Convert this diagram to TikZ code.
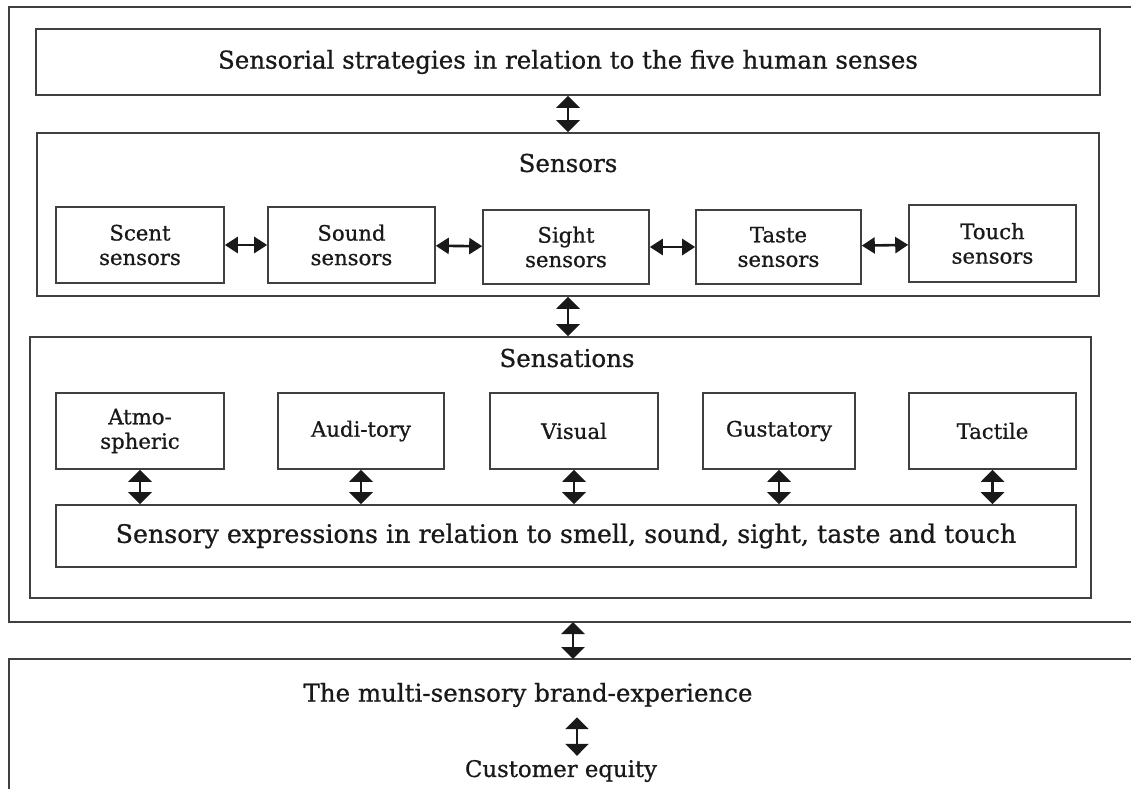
\documentclass[tikz,border=0pt]{standalone}
\usepackage{fontspec}
\setmainfont{DejaVu Serif}[FakeBold=0.8]
\usetikzlibrary{arrows.meta,positioning}
\begin{document}
\begin{tikzpicture}[x=1pt,y=-1pt,
    frame/.style={line width=1.6pt,black!75},
    box/.style={draw=black!75,line width=1.6pt,rectangle,inner sep=0pt,align=center,text=black!90},
    lbl/.style={text=black!90,inner sep=0pt},
    big/.style={font=\fontsize{24.5}{29}\selectfont},
    mid/.style={font=\fontsize{21.2}{24.5}\selectfont},
    arr/.style={line width=2.6pt,black!90,{Triangle[width=23pt,length=12pt]}-{Triangle[width=23pt,length=12pt]}},
    harr/.style={line width=2.6pt,black!90,{Triangle[width=16pt,length=13pt]}-{Triangle[width=16pt,length=13pt]}}]
    \useasboundingbox (0,0) rectangle (1131,789);
    %% outer frames
    \draw[frame] (1131,7) -- (9,7) -- (9,622) -- (1131,622);
    \draw[frame] (1131,659) -- (9,659) -- (9,789);
    \coordinate (o1) at (573,622);
    \coordinate (o2) at (573,659);
    %% top box
    \node[box,big,minimum width=1064,minimum height=66] (top) at (568,62) {Sensorial strategies in relation to the five human senses};
    %% sensors
    \node[box,minimum width=1062,minimum height=163] (sensors) at (568,214.5) {};
    \node[lbl,big] (sensorsT) at (568,163) {Sensors};
    \node[box,mid,minimum width=168,minimum height=76] (scent) at (140,245) {Scent\\sensors};
    \node[box,mid,minimum width=167,minimum height=76] (sound) at (351.5,245) {Sound\\sensors};
    \node[box,mid,minimum width=166,minimum height=74] (sight) at (566,247) {Sight\\sensors};
    \node[box,mid,minimum width=165,minimum height=74] (taste) at (778.5,247) {Taste\\sensors};
    \node[box,mid,minimum width=167,minimum height=77] (touch) at (992.5,243.5) {Touch\\sensors};
    %% sensations
    \node[box,minimum width=1061,minimum height=261] (sensations) at (560.5,467.5) {};
    \node[lbl,big] (sensationsT) at (567,358) {Sensations};
    \node[box,mid,minimum width=168,minimum height=76] (atmo) at (140,431) {Atmo-\\spheric};
    \node[box,mid,minimum width=166,minimum height=76] (audi) at (361,431) {Audi-tory};
    \node[box,mid,minimum width=168,minimum height=76] (visual) at (574,431) {Visual};
    \node[box,mid,minimum width=152,minimum height=76] (gust) at (779,431) {Gustatory};
    \node[box,mid,minimum width=167,minimum height=76] (tact) at (992.5,431) {Tactile};
    \node[box,font=\fontsize{25.3}{30}\selectfont,minimum width=1020,minimum height=62] (expr) at (566,536) {Sensory expressions in relation to smell, sound, sight, taste and touch};
    %% outcome
    \node[lbl,big] (brand) at (528,695) {The multi-sensory brand-experience};
    \node[lbl,font=\fontsize{22.8}{27}\selectfont] (equity) at (561,771) {Customer equity};
    %% arrows
    \draw[arr] (top.south) -- (sensors.north);
    \draw[harr] (scent) -- (sound);
    \draw[harr] (sound) -- (sight);
    \draw[harr] (sight) -- (taste);
    \draw[harr] (taste) -- (touch);
    \draw[arr] (sensors.south) -- (sensors.south |- sensations.north);
    \foreach \n in {atmo,audi,visual,gust,tact}
        \draw[arr] (\n.south) -- (\n.south |- expr.north);
    \draw[arr] (o1) -- (o2);
    \draw[arr] ([xshift=16pt]equity.north |- brand.south) ++(0,10) -- ([xshift=16pt,yshift=4pt]equity.north);
\end{tikzpicture}
\end{document}
